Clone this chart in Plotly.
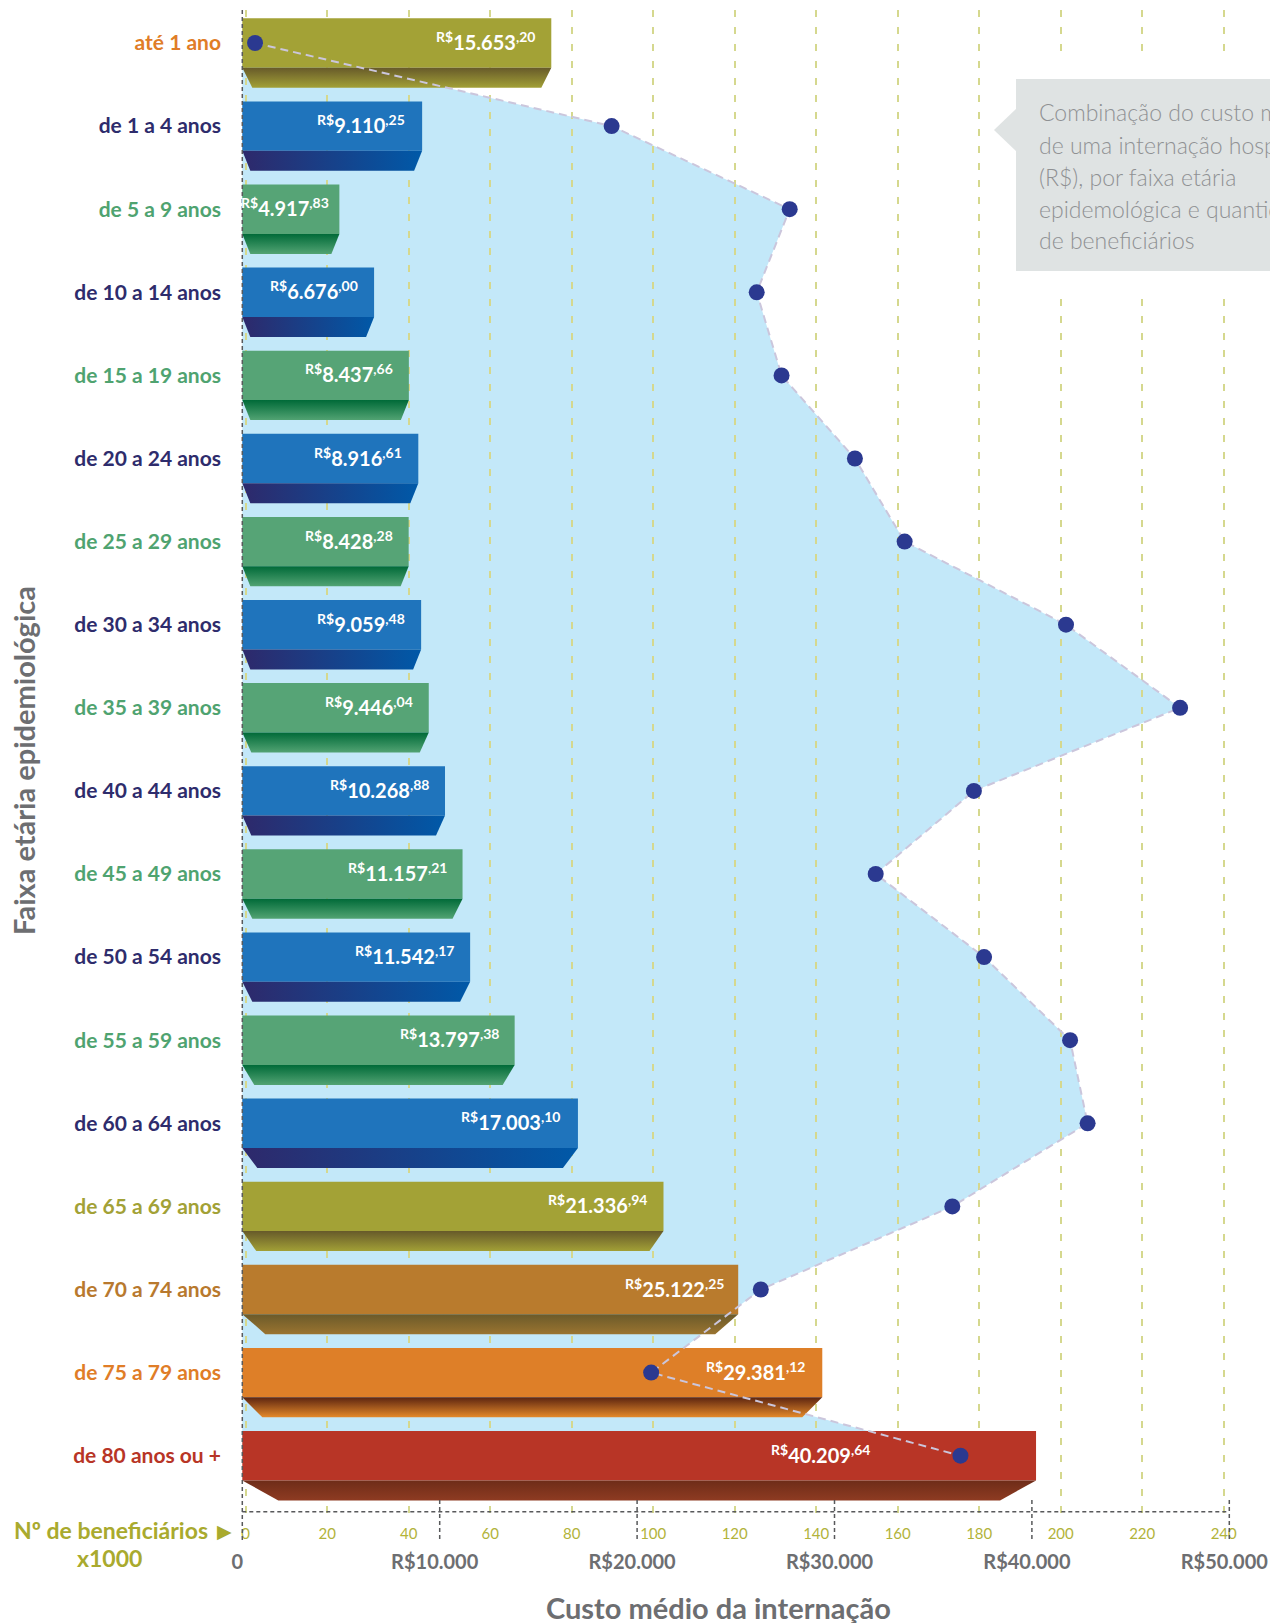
import plotly.graph_objects as go

# ---------------- DATA ----------------
categories = ["até 1 ano", "de 1 a 4 anos", "de 5 a 9 anos", "de 10 a 14 anos",
              "de 15 a 19 anos", "de 20 a 24 anos", "de 25 a 29 anos", "de 30 a 34 anos",
              "de 35 a 39 anos", "de 40 a 44 anos", "de 45 a 49 anos", "de 50 a 54 anos",
              "de 55 a 59 anos", "de 60 a 64 anos", "de 65 a 69 anos", "de 70 a 74 anos",
              "de 75 a 79 anos", "de 80 anos ou +"]
custo_medio = [15653.20, 9110.25, 4917.83, 6676.00, 8437.66, 8916.61, 8428.28, 9059.48,
               9446.04, 10268.88, 11157.21, 11542.17, 13797.38, 17003.10, 21336.94,
               25122.25, 29381.12, 40209.64]
beneficiarios_mil = [2.3, 89.8, 133.5, 125.4, 131.5, 149.5, 161.7, 201.3, 229.3, 178.7,
                     154.6, 181.2, 202.3, 206.6, 173.4, 126.4, 99.5, 175.4]
custo_tickvals = [0, 10000, 20000, 30000, 40000, 50000]
custo_ticktext = ["0", "R$10.000", "R$20.000", "R$30.000", "R$40.000", "R$50.000"]
benef_tickvals = [0, 20, 40, 60, 80, 100, 120, 140, 160, 180, 200, 220, 240]
box_lines = ["Combinação do custo médio", "de uma internação hospitalar",
             "(R$), por faixa etária", "epidemológica e quantidade", "de beneficiários"]

# ---------------- STYLES ----------------
kinds = ["olive", "blue", "green", "blue", "green", "blue", "green", "blue", "green",
         "blue", "green", "blue", "green", "blue", "olive", "brown", "orange", "red"]
face_col = {"olive": "#a3a236", "blue": "#1f74bc", "green": "#56a476", "brown": "#b97b2d",
            "orange": "#de7f28", "red": "#b83526"}
base_grad = {"olive": ("vertical", "#675a2a", "#a2a036"),
             "blue": ("horizontal", "#2e296b", "#0059a8"),
             "green": ("vertical", "#006a38", "#52a373"),
             "brown": ("vertical", "#6b5a2a", "#9a7430"),
             "orange": ("vertical", "#5c2410", "#e58a2a"),
             "red": ("vertical", "#6e2c18", "#8e3b22")}
label_col = ["#e07d27", "#2e2c6c", "#4fa370", "#2e2c6c", "#4fa370", "#2e2c6c", "#4fa370",
             "#2e2c6c", "#4fa370", "#2e2c6c", "#4fa370", "#2e2c6c", "#4fa370", "#2e2c6c",
             "#a2a136", "#b8792e", "#e07d27", "#b83526"]
inset_px = [10, 8, 8, 8, 8, 8, 8, 8, 9, 9, 10, 10, 12, 15, 14, 23, 20, 36]
label_shift = [-14, -15, -8, -14, -14, -14, -14, -14, -14, -14, -14, -14, -14, -16, -14,
               -12, -15, -164]
box_line_y = [111.8, 144.9, 177.0, 209.0, 240.0]

FONT = "Lato"
GRAY = "#6d6e71"
OLIVE_T = "#a9aa2e"

W, H = 1270, 1623
L, R, T, B = 232, 1270, 10, 1519       # plot area in pixels
cost0_px, cost_scale = 242.3, 0.01974  # px position of R$0 and px per R$
ben0_px, ben_scale = 245.7, 4.075      # px position of 0 beneficiaries and px per 1000
y0_px, row_px = 43.0, 83.1             # centre of first row and row spacing

x_range = [(L - cost0_px) / cost_scale, (R - cost0_px) / cost_scale]
x2_range = [(L - ben0_px) / ben_scale, (R - ben0_px) / ben_scale]
y_range = [(B - y0_px) / row_px, (T - y0_px) / row_px]


def pxx(px):
    return (px - L) / (R - L)


def pxy(py):
    return (B - py) / (B - T)


rows = list(range(len(categories)))
FACE_HALF = 0.297
BASE_BOT = 0.538

fig = go.Figure()

# 3D bases (trapezoids under each bar face)
for i, v in enumerate(custo_medio):
    ins = inset_px[i] / cost_scale
    gtype, c0, c1 = base_grad[kinds[i]]
    if gtype == "vertical":
        grad = dict(type="vertical", start=i + FACE_HALF, stop=i + BASE_BOT,
                    colorscale=[[0, c0], [1, c1]])
    else:
        grad = dict(type="horizontal", start=0, stop=v, colorscale=[[0, c0], [1, c1]])
    fig.add_trace(go.Scatter(
        x=[0, v, v - ins, ins, 0],
        y=[i + FACE_HALF, i + FACE_HALF, i + BASE_BOT, i + BASE_BOT, i + FACE_HALF],
        mode="lines", line=dict(width=0), fill="toself", fillgradient=grad,
        hoverinfo="skip", showlegend=False, xaxis="x", yaxis="y"))

# bar faces
fig.add_trace(go.Bar(
    x=custo_medio, y=rows, orientation="h", width=2 * FACE_HALF,
    marker=dict(color=[face_col[k] for k in kinds], line=dict(width=0)),
    hoverinfo="skip", showlegend=False, xaxis="x", yaxis="y"))

# beneficiaries line + dots
fig.add_trace(go.Scatter(
    x=beneficiarios_mil, y=rows, mode="lines+markers",
    line=dict(color="#cbc6dc", width=2, dash="8px,5px"),
    marker=dict(size=16, color="#2b3990"),
    hoverinfo="skip", showlegend=False, xaxis="x2", yaxis="y"))

shapes = []
# light-blue area (below gridlines)
left_x2 = (cost0_px - ben0_px) / ben_scale
path = f"M {left_x2},{rows[0]} " + " ".join(
    f"L {b},{r}" for b, r in zip(beneficiarios_mil, rows)) + f" L {left_x2},{rows[-1]} Z"
shapes.append(dict(type="path", path=path, xref="x2", yref="y", layer="below",
                   fillcolor="#c3e8f9", line=dict(width=0)))

# dark dashed axis frame
DK = "#58595b"
shapes.append(dict(type="line", xref="x", yref="paper", x0=0, x1=0,
                   y0=pxy(10), y1=pxy(1540), layer="above",
                   line=dict(color=DK, width=1.5, dash="4px,3px")))
shapes.append(dict(type="line", xref="x", yref="paper", x0=0, x1=custo_tickvals[-1],
                   y0=pxy(1511.7), y1=pxy(1511.7), layer="above",
                   line=dict(color=DK, width=1.5, dash="4px,3px")))
for t in custo_tickvals[1:]:
    shapes.append(dict(type="line", xref="x", yref="paper", x0=t, x1=t,
                       y0=pxy(1500), y1=pxy(1540), layer="above",
                       line=dict(color=DK, width=1.5, dash="4px,3px")))

# info box with pointer
shapes.append(dict(type="rect", xref="paper", yref="paper", x0=pxx(988), x1=pxx(1290),
                   y0=pxy(290), y1=pxy(60), fillcolor="white", line=dict(width=0),
                   layer="above"))
shapes.append(dict(type="rect", xref="paper", yref="paper", x0=pxx(1016), x1=pxx(1290),
                   y0=pxy(271), y1=pxy(79), fillcolor="#dfe3e3", line=dict(width=0),
                   layer="above"))
shapes.append(dict(type="path", xref="paper", yref="paper",
                   path=f"M {pxx(994)},{pxy(130)} L {pxx(1017)},{pxy(108)} "
                        f"L {pxx(1017)},{pxy(152)} Z",
                   fillcolor="#dfe3e3", line=dict(width=0), layer="above"))

annotations = []
for i, v in enumerate(custo_medio):
    whole = int(v)
    cents = int(round((v - whole) * 100))
    txt = f"<sup>R$</sup>{whole:,}".replace(",", ".") + f"<sup>,{cents:02d}</sup>"
    annotations.append(dict(x=v, y=i, xref="x", yref="y", text=txt, showarrow=False,
                            xanchor="right", yanchor="middle", xshift=label_shift[i],
                            yshift=2,
                            font=dict(family=FONT, size=20, color="white", weight="bold")))

for line, ly in zip(box_lines, box_line_y):
    annotations.append(dict(x=pxx(1037), y=pxy(ly), xref="paper", yref="paper",
                            text=line, showarrow=False, xanchor="left", yanchor="middle",
                            font=dict(family=FONT, size=23, color="#8f9193", weight=300)))


def txt_ann(text, xp, yp, size, color, xanchor="center", angle=0, family=FONT,
            weight="bold"):
    return dict(x=pxx(xp), y=pxy(yp), xref="paper", yref="paper", text=text,
                showarrow=False, xanchor=xanchor, yanchor="middle", textangle=angle,
                font=dict(family=family, size=size, color=color, weight=weight))


annotations.append(txt_ann("Faixa etária epidemiológica", 23, 761, 29, GRAY, angle=-90))
annotations.append(txt_ann("Custo médio da internação", 718, 1607, 29, GRAY))
annotations.append(txt_ann("Nº de beneficiários", 210, 1530, 23, OLIVE_T, xanchor="right"))
annotations.append(txt_ann("▶", 224, 1531, 19, OLIVE_T, family="DejaVu Sans",
                           weight="normal"))
annotations.append(txt_ann("x1000", 109, 1558, 23, OLIVE_T))

ticktext_y = [f"<span style='color:{c}'>{t}</span>" for t, c in zip(categories, label_col)]

fig.update_layout(
    width=W, height=H, margin=dict(l=L, r=W - R, t=T, b=H - B),
    paper_bgcolor="white", plot_bgcolor="rgba(0,0,0,0)",
    showlegend=False, barmode="overlay",
    font=dict(family=FONT),
    xaxis=dict(range=x_range, tickvals=custo_tickvals, ticktext=custo_ticktext,
               showgrid=False, zeroline=False, showline=False, ticks="",
               side="bottom", ticklabelstandoff=29, ticklabelshift=-5,
               ticklabeloverflow="allow",
               tickfont=dict(family=FONT, size=20, color=GRAY, weight="bold")),
    xaxis2=dict(range=x2_range, overlaying="x", anchor="y", side="bottom",
                tickvals=benef_tickvals, showgrid=True, gridcolor="#d5d88e",
                griddash="7px,10px", gridwidth=1.5, zeroline=False, showline=False,
                ticks="", ticklabelstandoff=4, ticklabeloverflow="allow",
                tickfont=dict(family=FONT, size=15, color="#b2b33a")),
    yaxis=dict(range=y_range, tickvals=rows, ticktext=ticktext_y, showgrid=False,
               zeroline=False, showline=False, ticks="", ticklabelstandoff=10,
               tickfont=dict(family=FONT, size=21, weight="bold")),
    shapes=shapes, annotations=annotations,
)

fig.write_html("out.html", config={"displayModeBar": False},
               post_script="document.body.style.margin='0';document.body.style.overflow='hidden';")
